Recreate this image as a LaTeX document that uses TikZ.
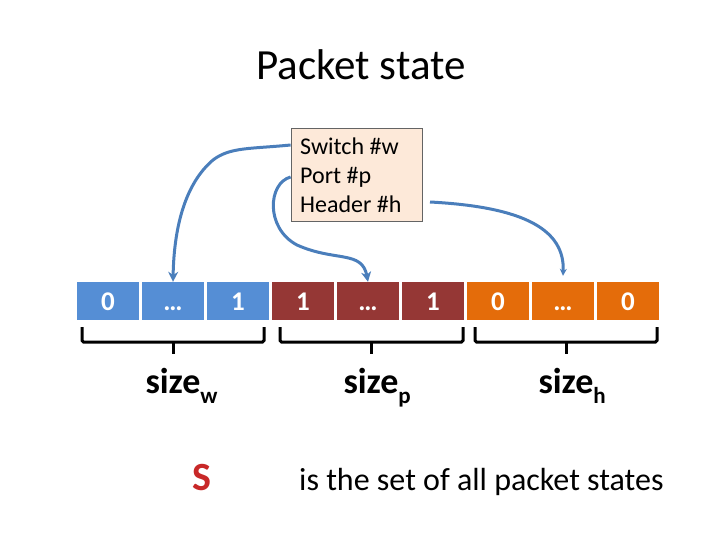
\documentclass[tikz,border=0pt]{standalone}
\usepackage{fontspec}
\setmainfont{Carlito}
\usetikzlibrary{arrows.meta}
\definecolor{cblue}{RGB}{85,142,213}
\definecolor{cred}{RGB}{149,55,53}
\definecolor{corange}{RGB}{228,108,10}
\definecolor{boxfill}{RGB}{253,233,217}
\definecolor{boxline}{RGB}{100,100,100}
\definecolor{arrowblue}{RGB}{74,126,187}
\definecolor{sred}{RGB}{200,40,40}
\newcommand\subs[1]{\rlap{\raisebox{-0.3em}{\fontsize{23}{23}\selectfont #1}}}
\tikzset{
  cell/.style={minimum width=62pt, minimum height=38pt, inner sep=0pt,
    text height=18pt, text depth=0pt, text=white,
    font=\fontsize{27}{27}\selectfont\bfseries},
  boxtext/.style={anchor=base west, inner sep=0pt, font=\fontsize{24}{24}\selectfont},
  link/.style={draw=arrowblue, line width=3pt, -{Stealth[length=10pt,width=10pt]}},
  bracket/.style={line width=3pt, rounded corners=1.5pt},
  sizelabel/.style={anchor=base, inner sep=0pt, font=\fontsize{36}{36}\selectfont\bfseries}
}
\begin{document}
\begin{tikzpicture}[x=1pt,y=-1pt]
\useasboundingbox (0,0) rectangle (720,540);
% title
\node[anchor=base, inner sep=0pt, font=\fontsize{43}{43}\selectfont] (title) at (361,80) {Packet state};
% box
\node[draw=boxline, fill=boxfill, line width=0.8pt, minimum width=131pt, minimum height=93pt, inner sep=0pt] (box) at (356.5,175) {};
\node[boxtext] (sw) at (300,155) {Switch \#w};
\node[boxtext] (pt) at (300,184) {Port \#p};
\node[boxtext] (hd) at (300,213) {Header \#h};
% cells
\foreach \i/\t/\c in {0/0/cblue,1/…/cblue,2/1/cblue,3/1/cred,4/…/cred,5/1/cred,6/0/corange,7/…/corange,8/0/corange}{
  \node[cell, fill=\c] (c\i) at ({108+65*\i},301) {\t};
}
% arrows
\draw[link] (box.west |- 0,145) .. controls (250,149) and (230,147) .. (213,160)
   .. controls (186,183) and (174,225) .. (c1.north);
\draw[link] (box.west |- 0,177) .. controls (268,183) and (265,228) .. (297,245)
   .. controls (335,262) and (362,250) .. (c4.north);
\coordinate (h0) at (430,202);
\draw[link, -{Stealth[length=7pt,width=7pt]}] (h0) .. controls (525,207) and (565,230) .. ([yshift=6pt]c7.north);
% brackets
\draw[bracket] (82,327) -- (82,342) -- (264,342) -- (264,327);
\draw[bracket] (173,342) -- (173,354);
\draw[bracket] (280,327) -- (280,342) -- (463,342) -- (463,327);
\draw[bracket] (371,342) -- (371,354);
\draw[bracket] (475,327) -- (475,342) -- (657,342) -- (657,327);
\draw[bracket] (566,342) -- (566,354);
% size labels
\node[sizelabel] (sw2) at (173,393) {size\subs{w}};
\node[sizelabel] (sp2) at (371,393) {size\subs{p}};
\node[sizelabel] (sh2) at (566,393) {size\subs{h}};
% bottom text
\node[anchor=base, inner sep=0pt, text=sred, font=\fontsize{40}{40}\selectfont\bfseries] (S) at (202,490) {S};
\node[anchor=base west, inner sep=0pt, font=\fontsize{32}{32}\selectfont] (desc) at (299,490) {is the set of all packet states};
\end{tikzpicture}
\end{document}
